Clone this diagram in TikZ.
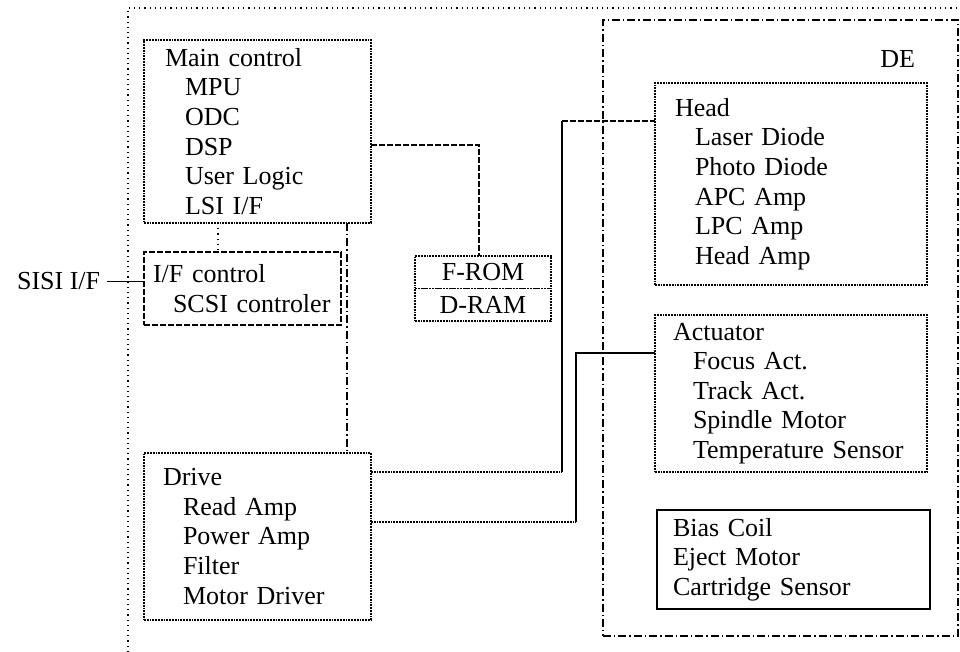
\documentclass[tikz,border=0pt]{standalone}
\usepackage{fontspec}
\setmainfont{Liberation Serif}
\usetikzlibrary{positioning}
\newcommand{\indt}{\hspace*{10pt}}

\begin{document}
\begin{tikzpicture}[x=0.5pt, y=-0.5pt,
  txt/.style={font=\fontsize{13}{14.8}\selectfont},
  blk/.style={txt, draw, anchor=north west, align=left, outer sep=0pt,
              inner ysep=0pt, line width=0.9pt, dash pattern=on 0.9pt off 0.5pt},
  dashbox/.style={dash pattern=on 3pt off 1pt},
  grp/.style={draw, anchor=north west, outer sep=0pt, inner sep=0pt, line width=0.6pt,
              dash pattern=on 4pt off 1.5pt on 0.7pt off 1.5pt},
  wire/.style={line width=0.6pt},
]
\useasboundingbox (0,0) rectangle (960,652);
% outer board frame
\draw[dotted, line width=0.6pt] (128,652) -- (128,8) -- (960,8);

\node[blk, text width=92.5pt, minimum height=91.5pt, inner xsep=10.5pt] (main) at (144,40)
  {Main control\\ \indt MPU\\ \indt ODC\\ \indt DSP\\ \indt User Logic\\ \indt LSI I/F};
\node[blk, dashbox, text width=89.5pt, minimum height=36.5pt, inner xsep=4.5pt] (ifc) at (144,252)
  {I/F control\\ \indt SCSI controler};
\node[blk, text width=94.5pt, minimum height=83.5pt, inner xsep=9.5pt] (drive) at (144,453)
  {Drive\\ \indt Read Amp\\ \indt Power Amp\\ \indt Filter\\ \indt Motor Driver};
\node[blk, align=center, minimum width=68pt, minimum height=16.25pt, inner xsep=0pt] (rom) at (415,256) {F-ROM};
\node[blk, align=center, minimum width=68pt, minimum height=16.25pt, inner xsep=0pt, below=0pt of rom] (ram) {D-RAM};
\node[txt, anchor=base west] (sisi) at (10,290) {SISI I/F};

% drive enclosure
\node[grp, minimum width=177.5pt, minimum height=308pt] (de) at (603,20) {};
\node[txt, anchor=base east] (delbl) at (922,68) {DE};
\node[blk, text width=116pt, minimum height=101pt, inner xsep=10pt] (head) at (655,83)
  {Head\\ \indt Laser Diode\\ \indt Photo Diode\\ \indt APC Amp\\ \indt LPC Amp\\ \indt Head Amp};
\node[blk, text width=118pt, minimum height=78.5pt, inner xsep=9pt] (act) at (655,315)
  {Actuator\\ \indt Focus Act.\\ \indt Track Act.\\ \indt Spindle Motor\\ \indt Temperature Sensor};
\node[blk, solid, text width=120.5pt, minimum height=49.5pt, inner xsep=8pt] (bias) at (657,510)
  {Bias Coil\\ Eject Motor\\ Cartridge Sensor};

% connections
\draw[wire] (sisi.east) -- (sisi.east -| ifc.west);
\draw[wire, dotted] ([xshift=37pt]main.south west) -- ([xshift=37pt]ifc.north west);
\draw[wire, dash pattern=on 4pt off 1.5pt on 0.7pt off 1.5pt] ([xshift=101.5pt]main.south west) -- ([xshift=101.5pt]drive.north west);
\draw[wire, dash pattern=on 3pt off 1pt] ([yshift=-6.75pt]main.east) -| ([xshift=-2pt]rom.north);

\coordinate (d1) at ([yshift=-9.5pt]drive.north east);
\coordinate (hb) at (562,121);
\draw[wire, line width=0.9pt, dash pattern=on 0.9pt off 0.5pt] (d1) -- (d1 -| hb);
\draw[wire] (d1 -| hb) -- (hb);
\draw[wire, dash pattern=on 3pt off 1pt] (hb) -- (hb -| head.west);

\coordinate (d2) at ([yshift=-34.5pt]drive.north east);
\coordinate (ab) at (576,353);
\draw[wire, line width=0.9pt, dash pattern=on 0.9pt off 0.5pt] (d2) -- (d2 -| ab);
\draw[wire] (d2 -| ab) -- (ab) -- (ab -| act.west);
\end{tikzpicture}
\end{document}
